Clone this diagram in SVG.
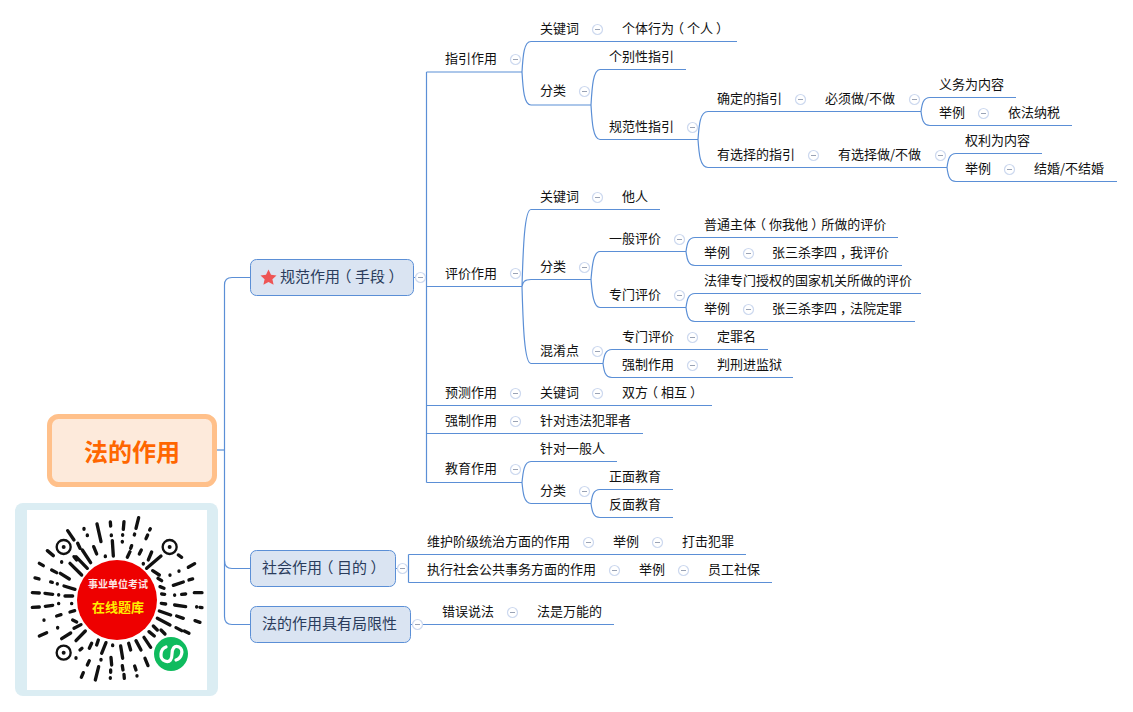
<svg xmlns="http://www.w3.org/2000/svg" width="1133" height="712" viewBox="0 0 1133 712">
<style>
text{font-family:"Noto Sans CJK SC","Noto Sans",sans-serif;font-size:13px;fill:#111;transform:translateY(-1px)}
.main rect{fill:#dae4f2;stroke:#5b8fd6;stroke-width:1}
.main text{font-size:15px;fill:#2a3c5c}
#connectors path{fill:none;stroke:#5b8fd6;stroke-width:1.2}
.qr path{fill:none;stroke:#111;stroke-width:10;stroke-linecap:round}
.qr .eye{fill:none;stroke:#111;stroke-width:7}
.qr .dot{fill:#111}
</style>
<defs>
<g id="c"><circle r="5" fill="#fff" stroke="#cdd9ef" stroke-width="1.2"/><path d="M-2.5 0H2.5" stroke="#9aa3b5" stroke-width="1"/></g>
</defs>
<rect width="1133" height="712" fill="#fff"/>
<g id="connectors">
<path d="M217 450H224.5"/>
<path d="M250 277.5H232C227 277.5 224.5 280 224.5 285V616.5C224.5 621.5 227 624.5 232 624.5H250"/>
<path d="M224.5 560.5C224.5 565.5 227 568.5 232 568.5H250"/>
<path d="M413.5 277.5H426.5M426.5 72V482.5"/>
<path d="M426.5 72H522M426.5 286.5H522M426.5 405.5H712M426.5 433.5H643M426.5 482.5H522"/>
<path d="M522 72C523 55 524 41.5 531 41.5H737M522 72C523 89 524 105 531 105H591"/>
<path d="M591 105C592 88 593 69.5 600 69.5H686M591 105C592 122 593 139.5 600 139.5H698"/>
<path d="M698 139.5C699 125 700 111.5 708 111.5H921M698 139.5C699 154 700 167.5 708 167.5H947"/>
<path d="M921 111.5C922 104 923 97.5 930 97.5H1016M921 111.5C922 119 923 125.5 930 125.5H1072"/>
<path d="M947 167.5C948 160 949 153.5 956 153.5H1042M947 167.5C948 175 949 181.5 956 181.5H1117"/>
<path d="M522 286.5C523 255 524 209.5 531 209.5H660M522 286.5C523 282 524 279.5 531 279.5H591M522 286.5C523 320 524 363.5 531 363.5H603"/>
<path d="M591 279.5C592 268 593 251.5 600 251.5H686M591 279.5C592 291 593 307.5 600 307.5H686"/>
<path d="M686 251.5C687 244 688 237.5 695 237.5H898M686 251.5C687 259 688 265.5 695 265.5H902"/>
<path d="M686 307.5C687 300 688 293.5 695 293.5H921M686 307.5C687 315 688 321.5 695 321.5H915"/>
<path d="M603 363.5C604 356 605 349.5 612 349.5H768M603 363.5C604 371 605 377.5 612 377.5H793"/>
<path d="M522 482.5C523 472 524 461.5 531 461.5H617M522 482.5C523 493 524 503.5 531 503.5H591"/>
<path d="M591 503.5C592 496 593 489.5 600 489.5H673M591 503.5C592 511 593 517.5 600 517.5H673"/>
<path d="M396 568.5H408.5M408.5 554.5V582.5M408.5 554.5H746M408.5 582.5H772"/>
<path d="M411 624.5H614"/>
</g>
<g id="root"><rect x="49.5" y="416.5" width="165" height="68" rx="9" fill="#fdeadb" stroke="#ffc08a" stroke-width="5"/><text x="132" y="462" text-anchor="middle" style="font-size:24px;font-weight:700;fill:#ff6600">法的作用</text></g>
<g id="n-guifan" class="main"><rect x="250.5" y="259.5" width="163" height="36" rx="6"/><polygon points="268.5,269.5 271,274.8 276.5,275.4 272.4,279.2 273.6,284.8 268.5,282 263.4,284.8 264.6,279.2 260.5,275.4 266,274.8" fill="#ee5555"/><text x="280" y="283" dx="0 0 0 0 -3.5 3.5 0 3.5">规范作用（手段）</text><use href="#c" x="420.5" y="277.5"/></g>
<g id="n-shehui" class="main"><rect x="250.5" y="550.5" width="145" height="36" rx="6"/><text x="262" y="574" dx="0 0 0 0 -3.5 3.5 0 3.5">社会作用（目的）</text><use href="#c" x="402.5" y="568.5"/></g>
<g id="n-juxian" class="main"><rect x="250.5" y="606.5" width="160" height="36" rx="6"/><text x="262" y="630">法的作用具有局限性</text><use href="#c" x="417.5" y="624.5"/></g>
<g id="n-zhiyin"><text x="445" y="64">指引作用</text><use href="#c" x="515.5" y="59.5"/></g>
<g id="n-zy-gjc"><text x="540" y="34">关键词</text><use href="#c" x="597.5" y="29.5"/></g>
<g id="n-zy-gr"><text x="622" y="34" dx="0 0 0 0 -3 3 0 3">个体行为（个人）</text></g>
<g id="n-zy-fl"><text x="540" y="96">分类</text><use href="#c" x="584.5" y="91.5"/></g>
<g id="n-gbx"><text x="609" y="62">个别性指引</text></g>
<g id="n-gfx"><text x="609" y="132">规范性指引</text><use href="#c" x="692.5" y="127.5"/></g>
<g id="n-qd"><text x="717" y="104">确定的指引</text><use href="#c" x="800.5" y="99.5"/></g>
<g id="n-bx"><text x="825" y="104">必须做/不做</text><use href="#c" x="914.5" y="99.5"/></g>
<g id="n-yw"><text x="939" y="90">义务为内容</text></g>
<g id="n-jl1"><text x="939" y="118">举例</text><use href="#c" x="983.5" y="113.5"/></g>
<g id="n-yf"><text x="1008" y="118">依法纳税</text></g>
<g id="n-yxz"><text x="717" y="160">有选择的指引</text><use href="#c" x="813.5" y="155.5"/></g>
<g id="n-yxzz"><text x="838" y="160">有选择做/不做</text><use href="#c" x="940.5" y="155.5"/></g>
<g id="n-ql"><text x="965" y="146">权利为内容</text></g>
<g id="n-jl2"><text x="965" y="174">举例</text><use href="#c" x="1009.5" y="169.5"/></g>
<g id="n-jh"><text x="1034" y="174">结婚/不结婚</text></g>
<g id="n-pingjia"><text x="445" y="279">评价作用</text><use href="#c" x="515.5" y="273.5"/></g>
<g id="n-pj-gjc"><text x="540" y="202">关键词</text><use href="#c" x="597.5" y="197.5"/></g>
<g id="n-tr"><text x="622" y="202">他人</text></g>
<g id="n-pj-fl"><text x="540" y="272">分类</text><use href="#c" x="584.5" y="267.5"/></g>
<g id="n-yb"><text x="609" y="244">一般评价</text><use href="#c" x="679.5" y="239.5"/></g>
<g id="n-pt"><text x="704" y="230" dx="0 0 0 0 -3 3 0 0 3 -3">普通主体（你我他）所做的评价</text></g>
<g id="n-jl3"><text x="704" y="258">举例</text><use href="#c" x="748.5" y="253.5"/></g>
<g id="n-zs1"><text x="772" y="258" dx="0 0 0 0 0 3 -3">张三杀李四，我评价</text></g>
<g id="n-zm"><text x="609" y="300">专门评价</text><use href="#c" x="679.5" y="295.5"/></g>
<g id="n-fl"><text x="704" y="286">法律专门授权的国家机关所做的评价</text></g>
<g id="n-jl4"><text x="704" y="314">举例</text><use href="#c" x="748.5" y="309.5"/></g>
<g id="n-zs2"><text x="772" y="314" dx="0 0 0 0 0 3 -3">张三杀李四，法院定罪</text></g>
<g id="n-hx"><text x="540" y="356">混淆点</text><use href="#c" x="597.5" y="351.5"/></g>
<g id="n-hx-zm"><text x="622" y="342">专门评价</text><use href="#c" x="692.5" y="337.5"/></g>
<g id="n-dzm"><text x="717" y="342">定罪名</text></g>
<g id="n-hx-qz"><text x="622" y="370">强制作用</text><use href="#c" x="692.5" y="365.5"/></g>
<g id="n-px"><text x="717" y="370">判刑进监狱</text></g>
<g id="n-yuce"><text x="445" y="398">预测作用</text><use href="#c" x="515.5" y="393.5"/></g>
<g id="n-yc-gjc"><text x="540" y="398">关键词</text><use href="#c" x="597.5" y="393.5"/></g>
<g id="n-sf"><text x="622" y="398" dx="0 0 -3 3 0 3">双方（相互）</text></g>
<g id="n-qiangzhi"><text x="445" y="426">强制作用</text><use href="#c" x="515.5" y="421.5"/></g>
<g id="n-wf"><text x="540" y="426">针对违法犯罪者</text></g>
<g id="n-jiaoyu"><text x="445" y="474">教育作用</text><use href="#c" x="515.5" y="469.5"/></g>
<g id="n-ybr"><text x="540" y="454">针对一般人</text></g>
<g id="n-jy-fl"><text x="540" y="496">分类</text><use href="#c" x="584.5" y="491.5"/></g>
<g id="n-zmjy"><text x="609" y="482">正面教育</text></g>
<g id="n-fmjy"><text x="609" y="510">反面教育</text></g>
<g id="n-wh"><text x="427" y="547">维护阶级统治方面的作用</text><use href="#c" x="588.5" y="542.5"/></g>
<g id="n-jl5"><text x="613" y="547">举例</text><use href="#c" x="657.5" y="542.5"/></g>
<g id="n-dj"><text x="682" y="547">打击犯罪</text></g>
<g id="n-zx"><text x="427" y="575">执行社会公共事务方面的作用</text><use href="#c" x="614.5" y="570.5"/></g>
<g id="n-jl6"><text x="639" y="575">举例</text><use href="#c" x="683.5" y="570.5"/></g>
<g id="n-yg"><text x="708" y="575">员工社保</text></g>
<g id="n-cw"><text x="442" y="617">错误说法</text><use href="#c" x="512.5" y="612.5"/></g>
<g id="n-wn"><text x="537" y="617">法是万能的</text></g>
<g id="qrcode">
<rect x="15" y="503" width="203" height="193" rx="8" fill="#dbedf3"/>
<rect x="27" y="510" width="180" height="180" fill="#fff"/>
<g class="qr" transform="translate(0 400) scale(.3333)">
<path d="M203 392L222 420M252 385V388M262 405V407M291 372L303 425M331 366L332 378M334 405V407M372 365L370 388M368 404V406M367 424V426M416 353L408 385M404 402L403 405M395 437L392 445M451 386L449 390M443 405L438 416"/>
<path d="M337 422L340 468M316 468V470M281 440L290 462M247 450L272 488M228 470L262 505M233 430L240 445M222 470L230 480M210 490L245 525M185 485V487"/>
<path d="M142 452L160 467M118 490L130 497M155 510L170 518M181 520L208 537M105 534L117 537M152 546L157 547M172 551V552M192 558L225 568M97 578L118 579M135 580L158 583M176 584V585M195 588L218 588"/>
<path d="M97 622L118 621M136 619L158 616M176 610V611M215 610V611M132 660V661M170 648L183 644M210 636L224 632M118 708L140 698M173 682V684M185 716L212 699M218 660L230 666M228 722L256 693M222 685L243 674"/>
<path d="M244 832L250 818M262 795L268 782M286 840L296 800M228 775V773M240 750L246 745M268 745L275 730M290 735L295 720M305 760L318 728M303 778V780M333 772L335 795M338 735V737M332 810V817M331 833V835M362 738L368 775M367 797L369 810M372 823L373 835M386 730L392 750M408 722L423 750M404 798L408 810M411 827V828M432 712L452 742M435 775L444 797"/>
<path d="M447 695L463 708M460 678L472 690M483 690L495 702M472 655L510 675M528 683L545 692M553 693L567 700M478 633L512 645M530 648L550 655M585 662L600 667M484 610L497 612M524 615L557 620M590 620V621M600 622L606 623M485 582L494 583M545 583L557 582M583 578L606 578M524 585V586M480 560L492 565M520 556L550 546M567 540L578 537M474 535L485 542M510 525V526M537 513V514M565 502L584 491M458 512L478 525M440 505L483 468M535 465L545 472M445 480L455 456M418 462L424 450M430 490V492M382 472L390 455"/>
<circle class="eye" cx="191" cy="441" r="21"/><circle class="eye" cx="509" cy="441" r="21"/><circle class="eye" cx="191" cy="758" r="21"/>
<circle class="dot" cx="191" cy="441" r="6"/><circle class="dot" cx="509" cy="441" r="6"/><circle class="dot" cx="191" cy="758" r="6"/>
</g>
<circle cx="117" cy="600" r="40" fill="#ee0000"/>
<text x="118" y="589" text-anchor="middle" style="font-size:10px;font-weight:700;fill:#fde4e4">事业单位考试</text>
<text x="118" y="613" text-anchor="middle" style="font-size:13px;font-weight:700;fill:#ffee00">在线题库</text>
<circle cx="171" cy="654" r="17" fill="#0fbb5e"/>
<path d="M166 647C160 649 159 659 165 661C170 663 172 659 172 654C172 649 174 645 179 647C184 650 182 658 176 660" fill="none" stroke="#fff" stroke-width="3.2" stroke-linecap="round"/>
</g>
</svg>
